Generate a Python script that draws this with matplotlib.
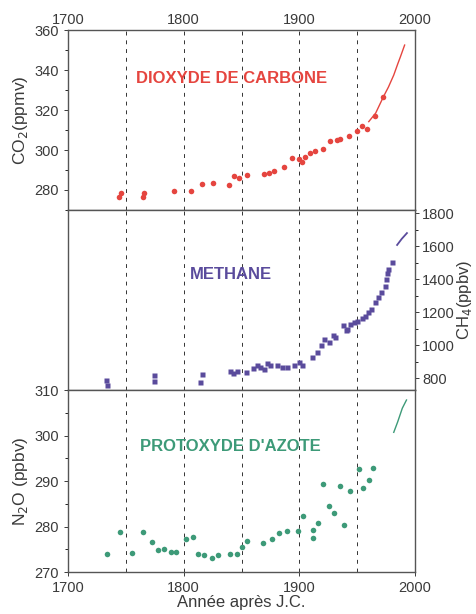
import matplotlib.pyplot as plt
from matplotlib.ticker import MultipleLocator

plt.rcParams['font.family'] = ['Liberation Sans', 'DejaVu Sans']

# CO2 ice core points and recent record
co2_year = [1744.4, 1745.6, 1765.2, 1766.0, 1791.2, 1806.2, 1815.7, 1825.0, 1838.8, 1843.2,
            1847.5, 1854.7, 1869.1, 1873.4, 1878.4, 1887.0, 1893.7, 1899.4, 1902.3, 1905.2,
            1909.5, 1913.9, 1920.5, 1926.8, 1932.6, 1935.5, 1942.7, 1949.4, 1954.3, 1958.6,
            1965.2, 1972.5]
co2_val = [276.7, 278.7, 276.7, 278.7, 279.5, 279.5, 283.2, 283.3, 282.3, 287.0,
           286.2, 287.3, 288.2, 288.7, 289.3, 291.3, 296.0, 295.3, 293.8, 296.7,
           298.3, 299.7, 300.3, 304.5, 305.0, 305.5, 307.0, 309.5, 312.0, 310.7,
           317.0, 326.7]
co2_line_year = [1960.0, 1966.0, 1972.7, 1977.0, 1981.6, 1985.0, 1987.4, 1991.0]
co2_line_val = [314.2, 318.5, 326.7, 331.5, 337.5, 343.0, 346.7, 352.5]

# CH4
ch4_year = [1733.0, 1733.5, 1774.5, 1774.5, 1815.7, 1814.0, 1840.0, 1843.0, 1846.0, 1854.0,
            1860.0, 1863.0, 1866.0, 1869.0, 1872.0, 1875.0, 1881.0, 1885.0, 1889.0, 1895.0,
            1900.0, 1902.0, 1911.0, 1915.0, 1919.0, 1921.0, 1926.0, 1929.0, 1931.0, 1938.0,
            1940.0, 1941.0, 1944.0, 1947.0, 1950.0, 1954.0, 1957.0, 1959.0, 1962.0, 1965.0,
            1968.0, 1971.0, 1974.0, 1975.0, 1976.0, 1976.5, 1980.0]
ch4_val = [790, 760, 820, 783, 824, 780, 844, 830, 846, 840,
           860, 880, 870, 858, 890, 880, 878, 870, 866, 880,
           900, 880, 931, 962, 1000, 1040, 1020, 1060, 1050, 1120,
           1090, 1100, 1130, 1140, 1150, 1165, 1180, 1200, 1220, 1260,
           1290, 1320, 1360, 1400, 1440, 1460, 1503]
ch4_line_year = [1984.5, 1988.5, 1993.0]
ch4_line_val = [1608, 1645, 1680]

# N2O
n2o_year = [1733.8, 1744.8, 1754.9, 1764.9, 1773.0, 1778.0, 1783.0, 1788.8, 1793.0, 1801.9,
            1808.2, 1812.6, 1817.5, 1824.2, 1830.0, 1840.0, 1845.8, 1850.0, 1854.4, 1868.8,
            1876.0, 1882.6, 1889.0, 1899.1, 1902.9, 1911.6, 1912.2, 1916.5, 1920.3, 1926.0,
            1930.1, 1935.3, 1938.2, 1943.4, 1951.2, 1955.0, 1959.9, 1963.7]
n2o_val = [273.9, 278.9, 274.2, 278.9, 276.5, 274.8, 275.0, 274.5, 274.5, 277.2,
           277.8, 274.0, 273.7, 273.0, 273.7, 274.0, 274.0, 275.4, 276.8, 276.4,
           277.3, 278.5, 279.0, 279.0, 282.2, 277.4, 279.3, 280.8, 289.4, 284.4,
           283.0, 289.0, 280.4, 287.9, 292.6, 288.4, 290.2, 292.8]
n2o_line_year = [1981.6, 1985.0, 1989.0, 1992.6]
n2o_line_val = [300.7, 303.0, 306.0, 307.8]

red = '#e5453f'
purple = '#5a4b9c'
green = '#3d9a78'
grey = '#3a3a3a'

fig = plt.figure(figsize=(4.77, 6.14), dpi=100)
ax1 = fig.add_axes([0.1426, 0.658, 0.7275, 0.293])
ax2 = fig.add_axes([0.1426, 0.3648, 0.7275, 0.2932])
ax3 = fig.add_axes([0.1426, 0.0684, 0.7275, 0.2964])

for ax in (ax1, ax2, ax3):
    ax.set_xlim(1700, 2000)
    ax.xaxis.set_major_locator(MultipleLocator(100))
    ax.xaxis.set_minor_locator(MultipleLocator(50))
    ax.grid(axis='x', which='both', ls=(0, (4, 5)), color='#333333', lw=0.7)
    ax.tick_params(labelsize=10.5, colors=grey, width=0.7, length=3)
    ax.tick_params(which='minor', length=2, width=0.6)
    for s in ax.spines.values():
        s.set_color('#555555')
        s.set_linewidth(1.0)

# top panel
ax1.plot(co2_year, co2_val, 'o', color=red, ms=4, mec='none')
ax1.plot(co2_line_year, co2_line_val, '-', color=red, lw=1.0)
ax1.set_ylim(270, 360)
ax1.set_yticks([280, 300, 320, 340, 360])
ax1.yaxis.set_minor_locator(MultipleLocator(10))
ax1.xaxis.tick_top()
ax1.tick_params(axis='x', which='both', length=0, pad=2)
ax1.set_ylabel('CO$_2$(ppmv)', fontsize=12.5, color=grey, labelpad=3)
ax1.text(1841, 336, 'DIOXYDE DE CARBONE', color=red, fontsize=12, fontweight='bold', ha='center', va='center')

# middle panel
ax2.plot(ch4_year, ch4_val, 's', color=purple, ms=3.6, mec='none')
ax2.plot(ch4_line_year, ch4_line_val, '-', color=purple, lw=1.3)
ax2.set_ylim(729, 1820)
ax2.yaxis.tick_right()
ax2.yaxis.set_label_position('right')
ax2.set_yticks([800, 1000, 1200, 1400, 1600, 1800])
ax2.yaxis.set_minor_locator(MultipleLocator(100))
ax2.tick_params(axis='x', which='both', length=0, labelbottom=False)
ax2.tick_params(axis='y', pad=2)
ax2.set_ylabel('CH$_4$(ppbv)', fontsize=12, color=grey, labelpad=0)
ax2.text(1841, 1430, 'METHANE', color=purple, fontsize=12, fontweight='bold', ha='center', va='center')

# bottom panel
ax3.plot(n2o_year, n2o_val, 'o', color=green, ms=4, mec='none')
ax3.plot(n2o_line_year, n2o_line_val, '-', color=green, lw=1.0)
ax3.set_ylim(270, 310)
ax3.set_yticks([270, 280, 290, 300, 310])
ax3.yaxis.set_minor_locator(MultipleLocator(5))
ax3.tick_params(axis='x', which='minor', length=0)
ax3.set_ylabel('N$_2$O (ppbv)', fontsize=12.5, color=grey, labelpad=3)
ax3.set_xlabel('Année après J.C.', fontsize=12, color=grey, labelpad=0)
ax3.text(1840, 297.5, "PROTOXYDE D'AZOTE", color=green, fontsize=12, fontweight='bold', ha='center', va='center')

fig.savefig('out.png', dpi=100)
